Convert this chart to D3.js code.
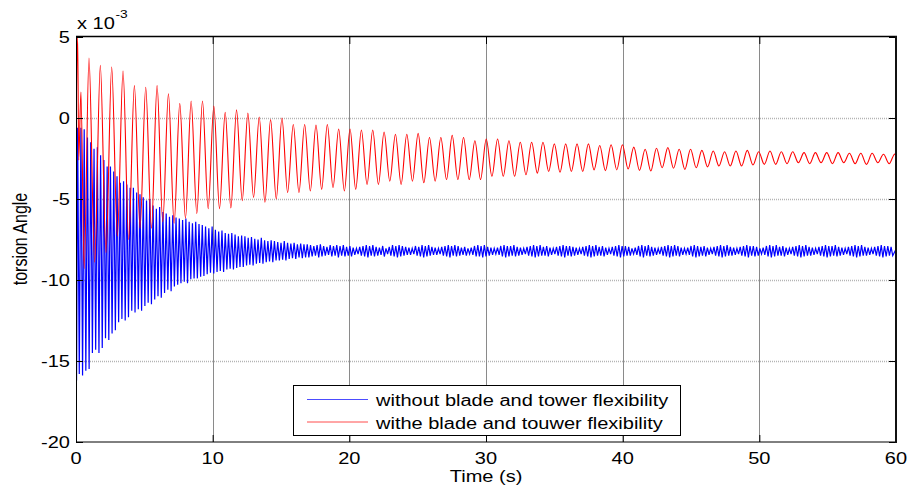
<!DOCTYPE html>
<html><head><meta charset="utf-8">
<script src="https://cdn.jsdelivr.net/npm/d3@7"></script>
<style>body{margin:0;background:#fff}svg{display:block}text{font-family:"Liberation Sans",Arial,sans-serif;fill:#000}</style>
</head><body><svg id="c" width="908" height="487"></svg>
<script>
// ---------------- data (values in units of 1e-3) ----------------
const xTicks = [0, 10, 20, 30, 40, 50, 60];
const yTicks = [5, 0, -5, -10, -15, -20];
const xLabel = "Time (s)";
const yLabel = "torsion Angle";
const seriesNames = ["without blade and tower flexibility", "withe blade and touwer flexibility"];
const seriesColors = ["#0000ff", "#ff0000"];

// blue series: start transient, then one peak and one trough per oscillation cycle
const blueLeadT = [0, 0.04];
const blueLeadV = [-2.6, -16.2];
const blueFirstPeakT = 0.12;      // s
const bluePeriod = 0.24;          // s (cycle length)
const bluePeaks = [
 -0.6,-0.6,-0.7,-1.2,-1.5,-1.9,-1.8,-2.3,-2.6,-3.0,
 -3.0,-3.3,-3.6,-4.0,-3.9,-4.1,-4.3,-4.3,-4.6,-4.7,
 -4.9,-5.1,-5.0,-5.4,-5.6,-5.5,-5.8,-5.9,-6.1,-6.0,
 -6.15,-6.2,-6.3,-6.2,-6.4,-6.5,-6.4,-6.55,-6.6,-6.7,
 -6.8,-6.7,-6.9,-7.0,-6.95,-7.1,-7.15,-7.1,-7.2,-7.3,
 -7.25,-7.3,-7.4,-7.35,-7.45,-7.5,-7.4,-7.55,-7.6,-7.55,
 -7.6,-7.65,-7.7,-7.6,-7.7,-7.75,-7.7,-7.8,-7.75,-7.8,
 -7.8,-7.85,-7.9,-7.85,-7.8,-7.9,-7.95,-7.85,-7.9,-7.85,
 -7.9,-7.85,-7.95,-7.9,-8.0,-8.05,-7.95,-7.9,-7.85,-7.9,-7.85,-7.95,-8.0,-7.9,
 -8.05,-7.95,-7.85,-7.9,-7.85,-7.9,-7.95,-8.0,-8.05,-7.9,-7.95,-7.85,-7.9,-7.85,
 -7.95,-8.0,-8.05,-7.95,-7.9,-7.85,-7.9,-7.85,-7.9,-8.0,-7.95,-8.05,-8.0,-7.9,
 -7.85,-7.9,-7.85,-7.95,-8.0,-8.05,-8.0,-7.9,-7.85,-7.9,-7.9,-7.85,-7.95,-8.0,
 -8.05,-7.95,-7.9,-7.85,-7.9,-7.85,-7.95,-7.9,-8.0,-8.05,-7.95,-7.9,-7.85,-7.9,
 -7.9,-7.95,-8.0,-8.05,-7.95,-7.9,-7.85,-7.9,-7.85,-7.95,-7.9,-8.0,-8.05,-7.95,
 -7.9,-7.85,-7.9,-7.9,-7.95,-8.05,-8.0,-7.9,-7.85,-7.9,-7.85,-7.95,-8.0,-8.05,
 -7.95,-7.9,-7.85,-7.9,-7.85,-7.9,-8.0,-8.05,-8.0,-7.9,-7.85,-7.9,-7.95,-7.9,
 -8.0,-8.05,-7.95,-7.9,-7.85,-7.9,-7.85,-7.95,-8.0,-8.05,-7.95,-7.9,-7.85,-7.9,
 -7.9,-7.95,-8.05,-8.0,-7.9,-7.85,-7.9,-7.85,-7.95,-7.9,-8.0,-8.05,-7.95,-7.9,
 -7.85,-7.9,-7.85,-7.95,-8.0,-8.05,-7.95,-7.9,-7.85,-7.9,-7.9,-7.85,-7.95,-8.0,
 -8.05,-7.95,-7.9,-7.85,-7.9,-7.85,-7.95,-8.0,-8.05,-7.95,-7.9,-7.85,-7.9,-7.9,-7.95
];
const blueTroughs = [
 -15.8,-15.9,-15.6,-15.5,-14.5,-14.3,-14.5,-14.2,-13.6,-13.7,
 -13.3,-13.1,-12.6,-12.4,-12.5,-12.3,-11.9,-12.0,-11.8,-11.9,
 -11.6,-11.4,-11.5,-11.2,-11.0,-11.1,-10.8,-10.6,-10.7,-10.4,
 -10.3,-10.2,-10.1,-10.2,-9.95,-9.9,-9.9,-9.8,-9.75,-9.65,
 -9.55,-9.6,-9.5,-9.45,-9.5,-9.35,-9.3,-9.35,-9.25,-9.2,
 -9.2,-9.1,-9.05,-9.1,-9.0,-8.95,-9.0,-8.9,-8.85,-8.9,
 -8.8,-8.8,-8.75,-8.8,-8.7,-8.65,-8.7,-8.6,-8.65,-8.6,
 -8.6,-8.55,-8.5,-8.6,-8.55,-8.5,-8.45,-8.55,-8.5,-8.6,
 -8.5,-8.55,-8.5,-8.55,-8.45,-8.4,-8.5,-8.55,-8.6,-8.5,-8.55,-8.5,-8.45,-8.55,
 -8.4,-8.5,-8.55,-8.6,-8.55,-8.5,-8.45,-8.45,-8.4,-8.5,-8.55,-8.6,-8.55,-8.5,
 -8.45,-8.45,-8.4,-8.5,-8.55,-8.6,-8.5,-8.55,-8.5,-8.45,-8.5,-8.4,-8.45,-8.55,
 -8.55,-8.6,-8.55,-8.5,-8.45,-8.4,-8.45,-8.55,-8.6,-8.55,-8.5,-8.55,-8.5,-8.45,
 -8.4,-8.5,-8.55,-8.6,-8.55,-8.5,-8.5,-8.55,-8.45,-8.4,-8.5,-8.55,-8.6,-8.5,
 -8.55,-8.5,-8.45,-8.4,-8.5,-8.55,-8.6,-8.55,-8.5,-8.5,-8.55,-8.45,-8.4,-8.5,
 -8.55,-8.6,-8.55,-8.5,-8.5,-8.4,-8.45,-8.55,-8.6,-8.5,-8.55,-8.5,-8.45,-8.4,
 -8.5,-8.55,-8.6,-8.55,-8.5,-8.55,-8.45,-8.4,-8.45,-8.55,-8.6,-8.55,-8.5,-8.55,
 -8.45,-8.4,-8.5,-8.55,-8.6,-8.55,-8.5,-8.5,-8.45,-8.4,-8.5,-8.55,-8.6,-8.5,
 -8.55,-8.5,-8.4,-8.45,-8.55,-8.6,-8.55,-8.5,-8.5,-8.55,-8.45,-8.4,-8.5,-8.55,
 -8.6,-8.55,-8.5,-8.5,-8.45,-8.4,-8.5,-8.55,-8.6,-8.55,-8.5,-8.55,-8.5,-8.45,
 -8.4,-8.5,-8.55,-8.6,-8.55,-8.5,-8.5,-8.45,-8.4,-8.5,-8.55,-8.6,-8.55,-8.5,-8.5
];
const blueEndT = 60, blueEndV = -8.1;

// red series: start transient, then one peak and one trough per cycle
const redLeadT = [0, 0.12, 0.2, 0.36, 0.6];
const redLeadV = [-1.0, 5.0, -2.6, 1.6, -9.3];
const redFirstPeakT = 0.95;       // s
const redPeriod = 0.8305;         // s
const redPeaks = [
 3.7,3.25,3.15,2.9,2.0,1.9,2.0,1.5,0.9,1.05,
 1.05,0.74,0.35,0.5,0.3,0.06,-0.1,0.0,-0.4,-0.4,
 -0.43,-0.4,-0.68,-0.68,-0.74,-0.74,-0.86,-1.0,-1.0,-0.95,
 -1.2,-1.2,-1.07,-1.2,-1.4,-1.3,-1.3,-1.4,-1.5,-1.5,
 -1.5,-1.6,-1.6,-1.6,-1.6,-1.7,-1.65,-1.65,-1.8,-1.93,
 -1.87,-1.83,-1.93,-1.93,-2.0,-2.04,-2.08,-2.04,-2.0,-2.08,
 -2.04,-2.08,-2.08,-2.14,-2.14,-2.14,-2.14,-2.18,-2.18,-2.18,
 -2.24,-2.22
];
const redTroughs = [
 -8.9,-8.3,-7.3,-7.5,-6.8,-6.8,-6.4,-6.5,-6.2,-5.9,
 -5.6,-5.6,-5.55,-5.1,-4.9,-5.2,-5.0,-4.6,-4.6,-4.5,
 -4.4,-4.3,-4.5,-4.4,-4.1,-4.1,-3.9,-4.1,-3.9,-4.0,
 -3.9,-3.8,-3.8,-3.8,-3.8,-3.6,-3.6,-3.6,-3.5,-3.4,
 -3.3,-3.35,-3.3,-3.3,-3.2,-3.25,-3.2,-3.15,-3.23,-3.27,
 -3.07,-3.1,-3.17,-3.07,-3.02,-2.96,-2.96,-2.96,-2.9,-2.86,
 -2.86,-2.82,-2.76,-2.82,-2.76,-2.82,-2.76,-2.82,-2.86,-2.76,
 -2.82
];
const redEndT = 60, redEndV = -2.4;

// ---------------- build point lists ----------------
function buildSeries(leadT, leadV, t0, period, peaks, troughs, endT, endV) {
  const pts = leadT.map((t, i) => ({t, v: leadV[i]}));
  peaks.forEach((p, k) => {
    const tp = t0 + k * period;
    if (tp <= endT) pts.push({t: tp, v: p});
    const tt = tp + period / 2;
    if (k < troughs.length && tt <= endT) pts.push({t: tt, v: troughs[k]});
  });
  pts.push({t: endT, v: endV});
  return pts;
}
const bluePts = buildSeries(blueLeadT, blueLeadV, blueFirstPeakT, bluePeriod, bluePeaks, blueTroughs, blueEndT, blueEndV);
const redPts = buildSeries(redLeadT, redLeadV, redFirstPeakT, redPeriod, redPeaks, redTroughs, redEndT, redEndV);

// ---------------- drawing ----------------
const L = 76, R = 896, T = 37, B = 442;
const SX = 1.25; // horizontal stretch of the original figure's text
const svg = d3.select("#c");
const x = d3.scaleLinear().domain([0, 60]).range([L, R]);
const y = d3.scaleLinear().domain([-20, 5]).range([B, T]);

svg.append("rect").attr("x", 0).attr("y", 0).attr("width", 908).attr("height", 487).attr("fill", "#fff");

// grid
const grid = svg.append("g");
grid.selectAll(".hg").data(yTicks.filter(v => v !== 5 && v !== -20)).join("line")
  .attr("x1", L).attr("x2", R).attr("y1", d => Math.round(y(d)) + 0.5).attr("y2", d => Math.round(y(d)) + 0.5)
  .attr("stroke", "#b4b4b4").attr("stroke-width", 1.5).attr("stroke-dasharray", "1,1");
grid.selectAll(".vg").data(xTicks.filter(v => v !== 0 && v !== 60)).join("line")
  .attr("y1", T).attr("y2", B).attr("x1", d => Math.round(x(d)) + 0.5).attr("x2", d => Math.round(x(d)) + 0.5)
  .attr("stroke", "#8a8a8a").attr("stroke-width", 1);

// data lines
svg.append("clipPath").attr("id", "clip").append("rect").attr("x", L).attr("y", T).attr("width", R - L).attr("height", B - T);
const lineBlue = d3.line().x(d => x(d.t)).y(d => y(d.v));
const lineRed = d3.line().x(d => x(d.t)).y(d => y(d.v)).curve(d3.curveMonotoneX);
const plot = svg.append("g").attr("clip-path", "url(#clip)");
plot.append("path").datum(bluePts).attr("d", lineBlue).attr("fill", "none").attr("stroke", seriesColors[0]).attr("stroke-width", 1.2);
plot.append("path").datum(redPts).attr("d", lineRed).attr("fill", "none").attr("stroke", seriesColors[1]).attr("stroke-width", 1.1);

// axes (ticks inside, on all four sides)
function styleAxis(g) { g.selectAll("text").remove(); g.select(".domain").remove(); g.selectAll("line").attr("stroke", "#000"); }
svg.append("g").attr("transform", `translate(0,${B})`).call(d3.axisBottom(x).tickValues(xTicks).tickSizeInner(-7).tickSizeOuter(0)).call(styleAxis);
svg.append("g").attr("transform", `translate(0,${T})`).call(d3.axisTop(x).tickValues(xTicks).tickSizeInner(-7).tickSizeOuter(0)).call(styleAxis);
svg.append("g").attr("transform", `translate(${L},0)`).call(d3.axisLeft(y).tickValues(yTicks).tickSizeInner(-7).tickSizeOuter(0)).call(styleAxis);
svg.append("g").attr("transform", `translate(${R},0)`).call(d3.axisRight(y).tickValues(yTicks).tickSizeInner(-7).tickSizeOuter(0)).call(styleAxis);

// frame
svg.append("rect").attr("x", L + 0.5).attr("y", T - 0.5).attr("width", R - L - 1).attr("height", B - T + 0.5)
  .attr("fill", "none").attr("stroke", "#000").attr("stroke-width", 1);
svg.append("line").attr("x1", L).attr("x2", R + 1).attr("y1", T - 0.5).attr("y2", T - 0.5).attr("stroke", "#000").attr("stroke-width", 1.5);
svg.append("line").attr("x1", R).attr("x2", R).attr("y1", T - 1).attr("y2", B + 1).attr("stroke", "#111").attr("stroke-width", 2);

// stretched text helper
function stext(px, py, str, size, anchor, rot) {
  return svg.append("text").attr("transform", `translate(${px},${py}) scale(${SX},1)` + (rot ? ` rotate(${rot})` : ""))
    .attr("font-size", size).attr("text-anchor", anchor || "start").text(str);
}

// tick labels
yTicks.forEach(v => stext(70, y(v) + 5.7, String(v), 16, "end"));
xTicks.forEach(v => stext(x(v), 463.5, String(v), 16, "middle"));
stext(77, 28.5, "x 10", 16, "start");
stext(115.5, 18, "-3", 11, "start");

// axis labels
stext(486, 481.5, xLabel, 16, "middle");
stext(27, 239, yLabel, 16, "middle", -90);

// legend
const lg = svg.append("g");
lg.append("rect").attr("x", 293.5).attr("y", 385.5).attr("width", 387).attr("height", 50)
  .attr("fill", "#fff").attr("stroke", "#000").attr("stroke-width", 1);
seriesNames.forEach((name, i) => {
  const ly = 399.5 + i * 22.5;
  lg.append("line").attr("x1", 307).attr("x2", 368).attr("y1", ly).attr("y2", ly)
    .attr("stroke", seriesColors[i]).attr("stroke-width", 1).attr("stroke-opacity", 0.7);
  stext(376, ly + 6.5, name, 16, "start");
});
</script></body></html>
